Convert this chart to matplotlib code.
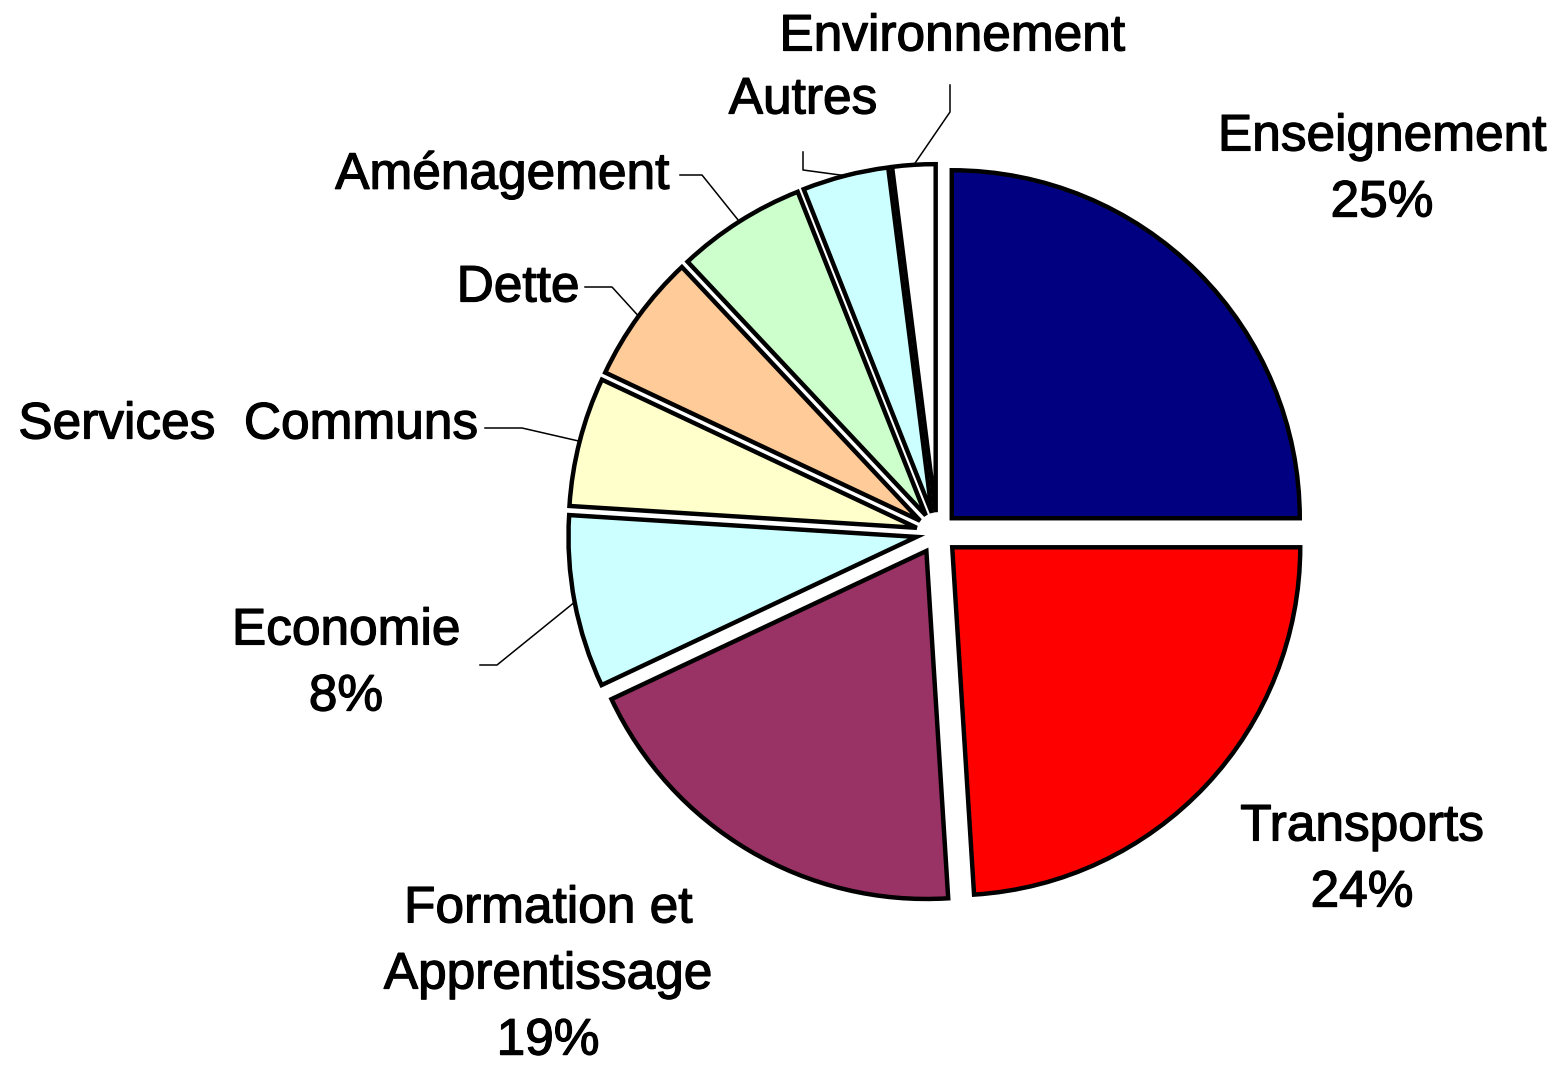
import numpy as np
import matplotlib
matplotlib.use("Agg")
import matplotlib.pyplot as plt
import matplotlib.patheffects as pe

# budget shares (%), clockwise from 12 o'clock
categories = ["Enseignement", "Transports", "Formation et\nApprentissage", "Economie",
              "Services  Communs", "Dette", "Aménagement", "Autres", "Environnement"]
shares = [25, 24, 19, 8, 6, 6, 6, 4, 2]
show_pct = [True, True, True, True, False, False, False, False, False]
colors = ["#000080", "#FF0000", "#993366", "#CCFFFF", "#FFFFCC",
          "#FFCC99", "#CCFFCC", "#CCFFFF", "#FFFFFF"]

W, H = 1558, 1067
R = 348
plt.rcParams['font.family'] = ['Liberation Sans', 'DejaVu Sans']

fig = plt.figure(figsize=(W / 100, H / 100), dpi=100)
ax = fig.add_axes([0, 0, 1, 1])

# explode is in data units here (axes are in pixels)
wedges, _ = ax.pie(shares, colors=colors, startangle=90, counterclock=False,
                   explode=[0.06 * R] * len(shares), radius=R, center=(937, H - 533),
                   wedgeprops=dict(edgecolor="black", linewidth=3.2))
ax.set_xlim(0, W)
ax.set_ylim(0, H)
ax.set_aspect("equal")
ax.axis("off")

# label placement in pixel coords (x, y from top)
label_pos = [(1382, 170), (1362, 860), (548, 975), (346, 664),
             (248, 425), (518, 288), (502, 175), (803, 100), (952, 37)]
# leader lines: (end near text, elbow) for labels outside the slice
leaders = {4: ((485, 428), (522, 428)), 5: ((585, 287), (612, 287)),
           6: ((680, 175), (702, 175)), 3: ((480, 665), (497, 665)),
           7: ((803, 152), (803, 170)), 8: ((950, 85), (950, 112))}

for i, (w, name) in enumerate(zip(wedges, categories)):
    txt = name + ("\n%d%%" % shares[i] if show_pct[i] else "")
    x, y = label_pos[i]
    ax.text(x, H - y, txt, ha="center", va="center", fontsize=37,
            linespacing=1.45, color="black",
            path_effects=[pe.withStroke(linewidth=0.9, foreground="black")])
    if i in leaders:
        ang = np.deg2rad((w.theta1 + w.theta2) / 2)
        cx, cy = w.center
        px, py = cx + w.r * np.cos(ang), cy + w.r * np.sin(ang)
        (ex, ey), (bx, by) = leaders[i]
        ax.plot([ex, bx, px], [H - ey, H - by, py], color="black", lw=1.1)

fig.savefig("out.png", dpi=100, facecolor="white")
